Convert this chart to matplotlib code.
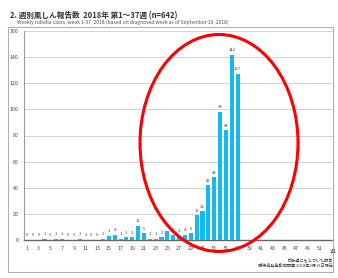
import matplotlib.pyplot as plt
from matplotlib.patches import Ellipse, Rectangle

plt.rcParams['font.family'] = ['Noto Sans CJK JP', 'DejaVu Sans']

# weekly rubella cases, weeks 1-37 of 2018
weeks = list(range(1, 38))
cases = [0, 0, 0, 1, 0, 1, 1, 0, 0, 1, 0, 0, 0,
         1, 3, 4, 1, 2, 2, 11, 5, 1, 1, 2,
         7, 4, 3, 4, 5, 19, 22, 42, 48, 98, 84, 142, 127]
x_ticks = list(range(1, 52, 2))
y_ticks = list(range(0, 161, 20))

title = '2. 週別風しん報告数  2018年 第1～37週 (n=642)'
subtitle = 'Weekly rubella cases, week 1-37, 2018 (based on diagnosed week as of September 19, 2018)'
foot1 = '診断週にもとづいた報告'
foot2 = '感染症発生動向調査 2018年9月19日現在'

W, H = 338, 278
fig = plt.figure(figsize=(W / 100, H / 100), dpi=100)

# outer frame
fig.add_artist(Rectangle((8 / W, 1 - 272 / H), 325 / W, 245 / H, transform=fig.transFigure,
                         fill=False, edgecolor='#b0b0b0', linewidth=0.8))

fig.text(10 / W, 1 - 16 / H, title, fontsize=5.5, fontweight='bold', color='#333333', va='center')
fig.text(17 / W, 1 - 22.5 / H, subtitle, fontsize=3.6, color='#555555', va='center')

ax = fig.add_axes([24 / W, 1 - 240 / H, 309 / W, 209 / H])
ax.bar(weeks, cases, width=0.7, color='#14b9ee', zorder=3)
for w, c in zip(weeks, cases):
    ax.text(w, c + 2, str(c), ha='center', va='bottom', fontsize=3, color='#444444')

ax.set_xlim(0.5, 53.3)
ax.set_ylim(0, 160)
ax.set_xticks(x_ticks)
ax.set_yticks(y_ticks)
ax.tick_params(labelsize=3.8, colors='#444444', length=0, pad=4)
ax.yaxis.grid(True, color='#cccccc', linewidth=0.6, zorder=0)
for s in ['top', 'right']:
    ax.spines[s].set_visible(False)
ax.spines['left'].set_color('#999999')
ax.spines['bottom'].set_color('#666666')
ax.spines['bottom'].set_linewidth(1.0)
ax.text(53.3, -7, '週', fontsize=4, color='#444444', ha='center', va='top')

fig.text(333 / W, 1 - 260 / H, foot1, fontsize=3, color='#333333', ha='right', va='center')
fig.text(333 / W, 1 - 266 / H, foot2, fontsize=3, color='#333333', ha='right', va='center')

# red circle highlighting the recent surge
fig.add_artist(Ellipse((219 / W, 1 - 143 / H), 158 / W, 217 / H, transform=fig.transFigure,
                       fill=False, edgecolor='#ff0000', linewidth=2.2, zorder=10))

fig.savefig('out.png', dpi=100)
